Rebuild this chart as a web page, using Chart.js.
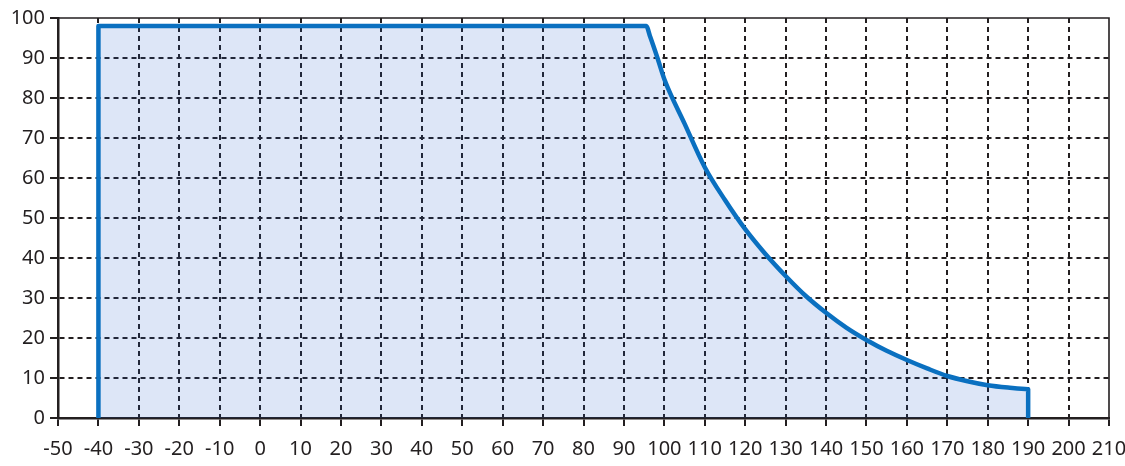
<!DOCTYPE html>
<html>
<head>
<meta charset="utf-8">
<script src="https://cdn.jsdelivr.net/npm/chart.js@4/dist/chart.umd.min.js"></script>
<style>
  html, body { margin: 0; padding: 0; background: #fff; }
  #wrap { width: 1125px; height: 466px; }
</style>
</head>
<body>
<div id="wrap"><canvas id="grafico"></canvas></div>
<script>
// curva (x, y)
var xValores = [-40, -40, 95.5, 96.5, 98.3, 100, 105, 110, 115, 120, 125, 130, 135, 140, 145, 150, 155, 160, 165, 170, 175, 180, 185, 190, 190];
var yValores = [0, 98, 98, 95.3, 90, 84.7, 73.6, 62.7, 54.5, 47.2, 41, 35.5, 30.5, 26.3, 22.6, 19.5, 16.8, 14.5, 12.4, 10.5, 9.2, 8.2, 7.6, 7.2, 0];
var xLimites = [-50, 210];
var yLimites = [0, 100];

var corTexto = '#231f20';

var pontos = [];
for (var i = 0; i < xValores.length; i++) {
    pontos.push({ x: xValores[i], y: yValores[i] });
}

// borda de cima e da direita
var moldura = {
    id: 'moldura',
    beforeDatasetsDraw: function (chart) {
        var a = chart.chartArea;
        var ctx = chart.ctx;
        ctx.save();
        ctx.strokeStyle = corTexto;
        ctx.lineWidth = 1.6;
        ctx.beginPath();
        ctx.moveTo(a.left, a.top);
        ctx.lineTo(a.right, a.top);
        ctx.lineTo(a.right, a.bottom);
        ctx.stroke();
        ctx.restore();
    }
};

function corGrade(ctx) {
    var n = ctx.scale.ticks.length;
    if (ctx.index === 0 || ctx.index === n - 1) return 'rgba(0,0,0,0)';
    return corTexto;
}

new Chart(document.getElementById('grafico'), {
    type: 'line',
    data: {
        datasets: [{
            data: pontos,
            borderColor: '#0a70c0',
            borderWidth: 4.5,
            backgroundColor: 'rgba(30,90,200,0.15)',
            fill: 'origin',
            pointRadius: 0,
            cubicInterpolationMode: 'monotone',
            borderJoinStyle: 'round'
        }]
    },
    options: {
        responsive: true,
        maintainAspectRatio: false,
        animation: false,
        layout: { padding: { top: 18, right: 16, left: 0, bottom: 0 } },
        plugins: { legend: { display: false }, tooltip: { enabled: false } },
        scales: {
            x: {
                type: 'linear',
                min: xLimites[0],
                max: xLimites[1],
                afterFit: function (s) {
                    s.height = 48;
                    s.paddingLeft = 0;
                    s.paddingRight = 0;
                },
                ticks: {
                    stepSize: 10,
                    color: corTexto,
                    padding: 11,
                    font: { family: 'Noto Sans', size: 20 }
                },
                grid: {
                    color: corGrade,
                    lineWidth: 2,
                    tickColor: corTexto,
                    tickLength: 8,
                    tickWidth: 2,
                    tickBorderDash: []
                },
                border: { color: corTexto, width: 2.5, dash: [5, 4] }
            },
            y: {
                min: yLimites[0],
                max: yLimites[1],
                afterFit: function (s) {
                    s.width = 58;
                    s.paddingTop = 0;
                    s.paddingBottom = 0;
                },
                ticks: {
                    stepSize: 10,
                    color: corTexto,
                    padding: 5,
                    font: { family: 'Noto Sans', size: 20 }
                },
                grid: {
                    color: corGrade,
                    lineWidth: 2,
                    tickColor: corTexto,
                    tickLength: 8,
                    tickWidth: 2,
                    tickBorderDash: []
                },
                border: { color: corTexto, width: 2.5, dash: [5, 4] }
            }
        }
    },
    plugins: [moldura]
});
</script>
</body>
</html>
